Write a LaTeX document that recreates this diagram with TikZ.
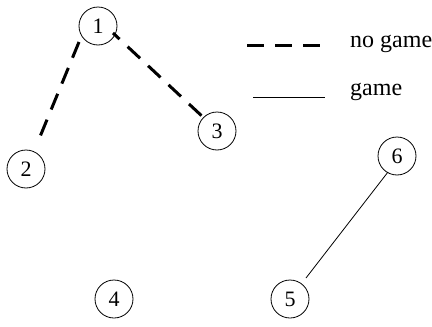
\documentclass[tikz,border=0pt]{standalone}
\usepackage{fontspec}
\usetikzlibrary{calc}
\setmainfont{Liberation Serif}
\newfontfamily\timesfont{Liberation Serif}
\begin{document}
\begin{tikzpicture}[x=1pt,y=-1pt,
  vertex/.style={draw,circle,minimum size=38pt,inner sep=0pt,line width=0.8pt,font=\timesfont\fontsize{22}{22}\selectfont},
  nogame/.style={line width=3pt,dash pattern=on 17pt off 11pt},
  gameline/.style={line width=0.8pt},
  legtext/.style={anchor=base west,inner sep=0pt,font=\timesfont\fontsize{24}{24}\selectfont}]
\useasboundingbox (0,0) rectangle (432,327);
\node[vertex] (n1) at (98,26) {1};
\node[vertex] (n2) at (26,169) {2};
\node[vertex] (n3) at (217,131) {3};
\node[vertex] (n4) at (114,299) {4};
\node[vertex] (n5) at (290,299) {5};
\node[vertex] (n6) at (397,156) {6};
\draw[nogame] ($(n1)+(-19,16)$) -- ($(n2)+(11,-25)$);
\draw[nogame,dash phase=8pt] ($(n1)+(15,7)$) -- ($(n3)+(-13,-13)$);
\draw[gameline] ($(n6)+(-9,16)$) -- ($(n5)+(16,-21)$);
\coordinate (la) at (247,45);
\coordinate (lb) at (322,45);
\coordinate (lc) at (253,97);
\coordinate (ld) at (325,97);
\draw[nogame] (la) -- (lb);
\draw[gameline] (lc) -- (ld);
\node[legtext] (t1) at (350,47) {no game};
\node[legtext] (t2) at (350,95) {game};
\end{tikzpicture}
\end{document}
